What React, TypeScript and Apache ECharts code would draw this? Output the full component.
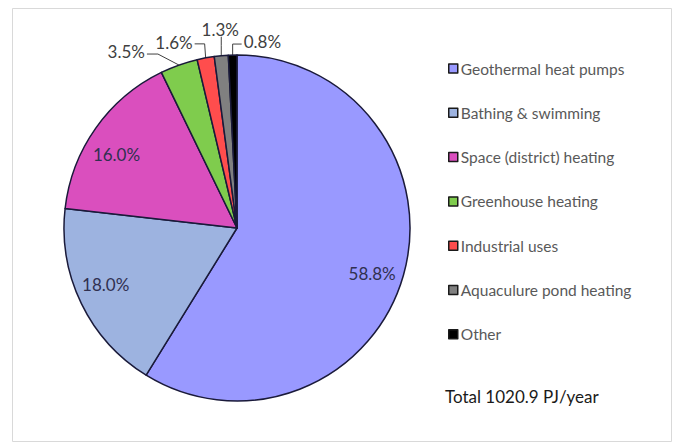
import React, { useEffect, useRef } from "react";
import * as echarts from "echarts";

const categories = [
  "Geothermal heat pumps",
  "Bathing & swimming",
  "Space (district) heating",
  "Greenhouse heating",
  "Industrial uses",
  "Aquaculure pond heating",
  "Other",
];
const shares = [58.8, 18.0, 16.0, 3.5, 1.6, 1.3, 0.8];
const colors = ["#9999FF", "#9DB3E0", "#DA4FBE", "#7FCC4D", "#FF4D4D", "#808080", "#000000"];
const totalLabel = "Total 1020.9 PJ/year";

// inside labels: small offsets from the default inside position
const insideOffsets: Record<number, number[]> = {
  0: [-1, 7],
  1: [-4, -5],
  2: [-5, 8],
};

// label layout for small slices (offsets from slice edge point)
const outsideLayout: Record<number, any> = {
  3: { elbow: [-21, -11], end: [-32, -11], text: [-34, -13.5], align: "right" },
  4: { elbow: [-1, -14], end: [-11, -14], text: [-13, -15.5], align: "right" },
  5: { elbow: [0, -10], end: [0, -19], text: [-1, -26.5], align: "center" },
  6: { elbow: [0, -11], end: [9, -11], text: [11, -13.3], align: "left" },
};

const FONT = "Lato, 'Open Sans', sans-serif";

export default function App() {
  const ref = useRef<HTMLDivElement>(null);
  useEffect(() => {
    document.body.style.margin = "0";
    const chart = echarts.init(ref.current!, null, { renderer: "svg" });
    const cx = 237, cy = 228, R = 173;
    const mainData = categories.map((name, i) => ({
      name,
      value: shares[i],
      itemStyle: { color: colors[i] },
      label: { show: !!outsideLayout[i] },
      labelLine: { show: !!outsideLayout[i] },
    }));
    const overlayData = categories.map((name, i) => ({
      name,
      value: shares[i],
      label: insideOffsets[i] ? { show: true, offset: insideOffsets[i] } : { show: false },
    }));
    chart.setOption({
      animation: false,
      backgroundColor: "#ffffff",
      graphic: [
        {
          type: "rect",
          shape: { x: 12.5, y: 8.5, width: 659, height: 433 },
          style: { fill: "none", stroke: "#d9d9d9", lineWidth: 1 },
          silent: true,
        },
      ],
      title: {
        text: totalLabel,
        left: 440,
        top: 383,
        textStyle: { fontFamily: FONT, fontSize: 17, fontWeight: "normal", color: "#1a1a1a" },
      },
      legend: {
        orient: "vertical",
        left: 443,
        top: 55.5,
        itemWidth: 9,
        itemHeight: 9,
        itemGap: 28.3,
        icon: "rect",
        data: categories,
        itemStyle: { borderColor: "#1a1a1a", borderWidth: 1.5 },
        textStyle: { fontFamily: FONT, fontSize: 15.5, color: "#595959", lineHeight: 16, padding: [0, 0, 0, -2] },
        selectedMode: false,
      },
      series: [
        {
          type: "pie",
          center: [cx, cy],
          radius: [0, R],
          startAngle: 90,
          clockwise: true,
          avoidLabelOverlap: false,
          data: mainData,
          itemStyle: { borderColor: "#1a1a3a", borderWidth: 1.5 },
          label: {
            position: "outside",
            formatter: (p: any) => `${p.value.toFixed(1)}%`,
            fontFamily: FONT,
            fontSize: 17,
            color: "#404040",
          },
          labelLine: { lineStyle: { color: "#404040", width: 1 }, length: 10, length2: 10 },
          labelLayout: (params: any) => {
            const cfg = outsideLayout[params.dataIndex];
            if (!cfg || !params.labelLinePoints) return {};
            const [ex, ey] = params.labelLinePoints[0];
            return {
              x: ex + cfg.text[0],
              y: ey + cfg.text[1],
              align: cfg.align,
              verticalAlign: "middle",
              labelLinePoints: [
                [ex, ey],
                [ex + cfg.elbow[0], ey + cfg.elbow[1]],
                [ex + cfg.end[0], ey + cfg.end[1]],
              ],
            };
          },
          emphasis: { disabled: true },
        },
        {
          type: "pie",
          center: [cx, cy],
          radius: [104, R],
          startAngle: 90,
          clockwise: true,
          silent: true,
          data: overlayData,
          itemStyle: { color: "rgba(0,0,0,0)", borderWidth: 0 },
          label: {
            position: "inside",
            formatter: (p: any) => `${p.value.toFixed(1)}%`,
            fontFamily: FONT,
            fontSize: 17,
            color: "#303050",
          },
          labelLine: { show: false },
          emphasis: { disabled: true },
        },
      ],
    });
    return () => chart.dispose();
  }, []);
  return <div ref={ref} style={{ width: 675, height: 443 }} />;
}
